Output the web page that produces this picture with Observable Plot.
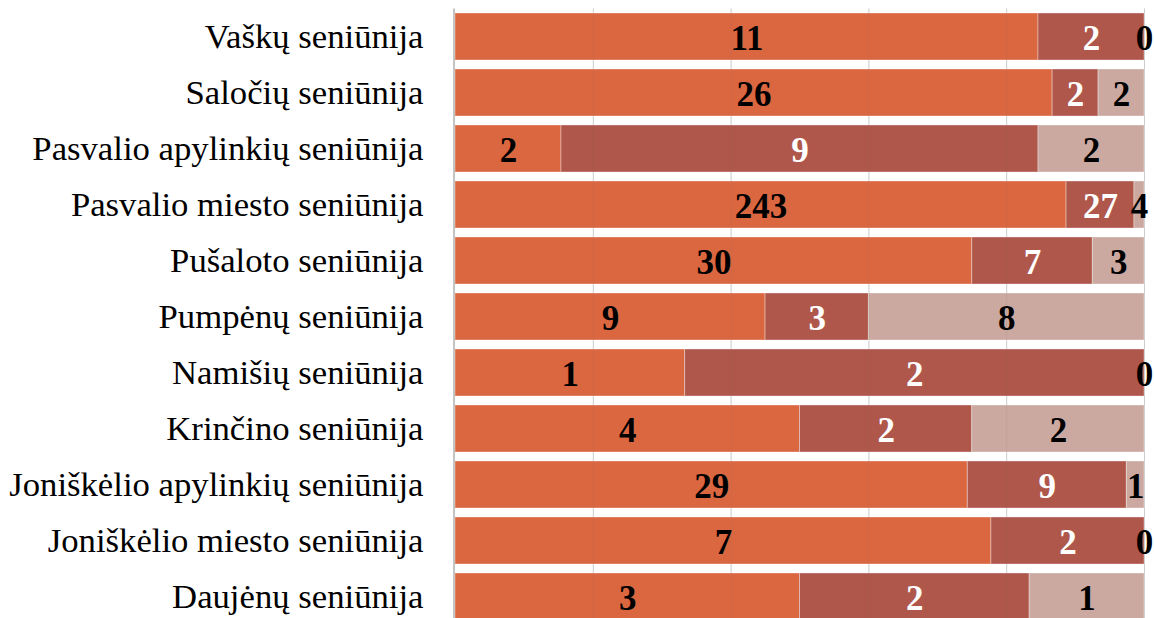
<!DOCTYPE html>
<html>
<head>
<meta charset="utf-8">
<script src="https://cdn.jsdelivr.net/npm/d3@7"></script>
<script src="https://cdn.jsdelivr.net/npm/@observablehq/plot@0.6"></script>
<style>
  html, body { margin: 0; padding: 0; background: #fff; overflow: hidden; }
</style>
</head>
<body>
<div id="chart"></div>
<script>
const seniunijos = [
  "Vaškų seniūnija",
  "Saločių seniūnija",
  "Pasvalio apylinkių seniūnija",
  "Pasvalio miesto seniūnija",
  "Pušaloto seniūnija",
  "Pumpėnų seniūnija",
  "Namišių seniūnija",
  "Krinčino seniūnija",
  "Joniškėlio apylinkių seniūnija",
  "Joniškėlio miesto seniūnija",
  "Daujėnų seniūnija"
];
const pirmi  = [11, 26, 2, 243, 30, 9, 1, 4, 29, 7, 3];
const antri  = [2, 2, 9, 27, 7, 3, 2, 2, 9, 2, 2];
const treti  = [0, 2, 2, 4, 3, 8, 0, 2, 1, 0, 1];
const serijos = ["I", "II", "III"];
const spalvos = ["#DB6741", "#AF574B", "#CBA9A0"];
const tekstoSpalvos = ["#000", "#fff", "#000"];

const reiksmes = [pirmi, antri, treti];
const rows = [];
seniunijos.forEach((cat, i) => {
  const total = pirmi[i] + antri[i] + treti[i];
  let acc = 0;
  serijos.forEach((s, j) => {
    const v = reiksmes[j][i];
    rows.push({cat, s, j, value: v, mid: (acc + v / 2) / total});
    acc += v;
  });
});

const font = "'Liberation Serif', 'Times New Roman', serif";

const plot = Plot.plot({
  width: 1154,
  height: 625,
  marginLeft: 455,
  marginRight: 10,
  marginTop: 8.5,
  marginBottom: 0,
  style: {fontFamily: font, fontSize: "34.7px", color: "#000", background: "#fff"},
  x: {domain: [0, 1], axis: null},
  y: {domain: seniunijos, paddingInner: 0.16, paddingOuter: 0.08, tickSize: 0, tickPadding: 32, label: null},
  color: {domain: serijos, range: spalvos},
  marks: [
    Plot.ruleX([0.2, 0.4, 0.6, 0.8, 1], {stroke: "#d9d9d9"}),
    Plot.barX(rows, Plot.stackX({x: "value", y: "cat", fill: "s", offset: "normalize", stroke: "#fff", strokeOpacity: 0.35, strokeWidth: 1})),
    Plot.ruleX([0.2, 0.4, 0.6, 0.8, 1], {stroke: "#777", strokeOpacity: 0.12}),
    Plot.ruleX([0], {stroke: "#c4c4c4", strokeWidth: 2, dx: -1.5}),
    ...serijos.map((s, j) => Plot.text(rows.filter(d => d.s === s), {
      x: "mid", y: "cat", text: d => String(d.value),
      fill: tekstoSpalvos[j], fontSize: 35, fontWeight: "bold", fontFamily: font, dy: 2
    }))
  ]
});
document.getElementById("chart").appendChild(plot);
</script>
</body>
</html>
